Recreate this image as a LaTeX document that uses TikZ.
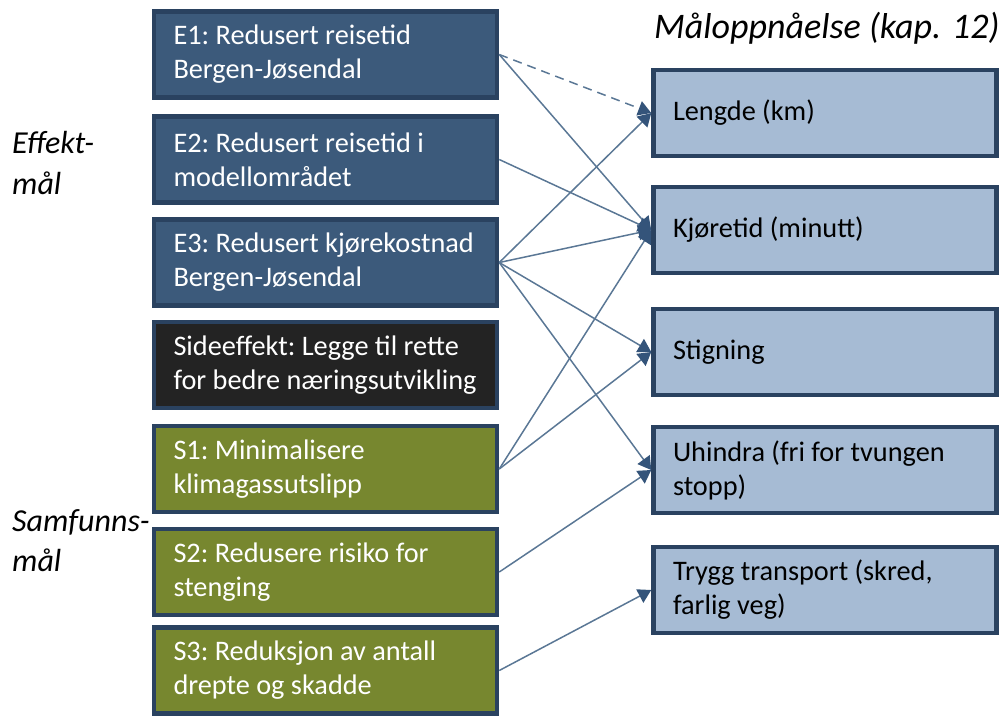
\documentclass[tikz,border=0pt]{standalone}
\usepackage{fontspec}
\setmainfont{Carlito}
\usetikzlibrary{arrows.meta}
\definecolor{ebox}{HTML}{3C5A7B}
\definecolor{bord}{HTML}{2A4260}
\definecolor{sbox}{HTML}{77872F}
\definecolor{dbox}{HTML}{232323}
\definecolor{rbox}{HTML}{A6BBD4}
\definecolor{conn}{HTML}{5A7795}
\definecolor{tip}{HTML}{34547A}
\tikzset{
  x=1pt,y=-1pt,
  goalbox/.style={rectangle,draw=bord,line width=4.5pt,minimum width=343pt,minimum height=86pt,
    inner xsep=19.5pt,text width=304pt,align=flush left,
    font=\fontsize{28.3}{34}\selectfont\frenchspacing},
  ebx/.style={goalbox,fill=ebox,text=white},
  sbx/.style={goalbox,fill=sbox,text=white},
  dbx/.style={goalbox,fill=dbox,text=white},
  rbx/.style={goalbox,fill=rbox,text=black},
  conn/.style={draw=conn,line width=1.5pt,-{Triangle[length=13pt,width=15pt,color=tip]}},
  lbl/.style={font=\fontsize{32}{40}\selectfont\itshape,align=left,inner sep=0pt},
}
\begin{document}
\begin{tikzpicture}
\useasboundingbox (0,0) rectangle (1002,716);
\node[ebx] (e1) at (325.5,54.5) {E1: Redusert reisetid\\Bergen-Jøsendal};
\node[ebx] (e2) at (325.5,159.5) {E2: Redusert reisetid i\\modellområdet};
\node[ebx] (e3) at (325.5,262.5) {E3: Redusert kjørekostnad\\Bergen-Jøsendal};
\node[dbx] (se) at (325.5,365) {Sideeffekt: Legge til rette\\for bedre næringsutvikling};
\node[sbx] (s1) at (325.5,469) {S1: Minimalisere\\klimagassutslipp};
\node[sbx] (s2) at (325.5,572) {S2: Redusere risiko for\\stenging};
\node[sbx] (s3) at (325.5,670.5) {S3: Reduksjon av antall\\drepte og skadde};
\node[rbx] (r1) at (825,113) {Lengde (km)};
\node[rbx] (r2) at (825,230) {Kjøretid (minutt)};
\node[rbx] (r3) at (825,352) {Stigning};
\node[rbx] (r4) at (825,470) {Uhindra (fri for tvungen\\stopp)};
\node[rbx] (r5) at (825,590) {Trygg transport (skred,\\farlig veg)};
\node[lbl,anchor=west,font=\fontsize{36}{40}\selectfont\itshape] (t0) at (654,28) {Måloppnåelse (kap. 12)};
\node[lbl,anchor=west] (t1) at (12,143) {Effekt-};
\node[lbl,anchor=west] (t1b) at (12,183) {mål};
\node[lbl,anchor=west] (t2) at (12,522) {Samfunns-};
\node[lbl,anchor=west] (t2b) at (12,560) {mål};
\draw[conn,dash pattern=on 9pt off 6pt] (e1.east) -- (r1.west);
\draw[conn] (e1.east) -- (r2.west);
\draw[conn] (e2.east) -- (r2.west);
\draw[conn] (e3.east) -- (r1.west);
\draw[conn] (e3.east) -- (r2.west);
\draw[conn] (e3.east) -- (r3.west);
\draw[conn] (e3.east) -- (r4.west);
\draw[conn] (s1.east) -- (r2.west);
\draw[conn] (s1.east) -- (r3.west);
\draw[conn] (s2.east) -- (r4.west);
\draw[conn] (s3.east) -- (r5.west);
\end{tikzpicture}
\end{document}
